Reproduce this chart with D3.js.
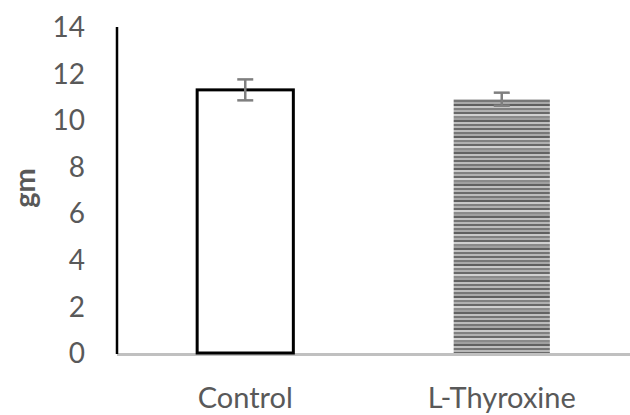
<!DOCTYPE html>
<html><head><meta charset="utf-8">
<script src="https://cdn.jsdelivr.net/npm/d3@7"></script>
<style>body{margin:0;background:#fff}svg{display:block}</style>
</head><body>
<svg id="c" width="630" height="415"></svg>
<script>
const categories = ["Control", "L-Thyroxine"];
const values = [11.3, 10.9];
const errors = [0.45, 0.28];
const yTicks = [0, 2, 4, 6, 8, 10, 12, 14];
const yLabel = "gm";

(function () {
const svg = d3.select("#c");
const mLeft = 117, mRight = 630, mTop = 27, mBottom = 353;
const x = d3.scaleBand().domain(categories).range([mLeft, mRight]).padding(0);
const y = d3.scaleLinear().domain([0, 14]).range([mBottom, mTop]);
const bw = x.bandwidth() * 0.375;

// stripe pattern
const defs = svg.append("defs");
const shades = ["#6a6a6a","#bcbcbc","#777","#a9a9a9","#5f5f5f","#c8c8c8","#808080","#b0b0b0","#686868","#d0d0d0","#8a8a8a","#a0a0a0","#626262","#c0c0c0","#747474","#b8b8b8"];
const pat = defs.append("pattern").attr("id","stripes").attr("patternUnits","userSpaceOnUse")
  .attr("width", 10).attr("height", shades.length * 2);
shades.forEach((c, i) => pat.append("rect").attr("x",0).attr("y", i*2).attr("width",10).attr("height",2).attr("fill", c));

// x axis line
svg.append("line").attr("x1", mLeft).attr("x2", mRight).attr("y1", mBottom + 1.5).attr("y2", mBottom + 1.5)
  .attr("stroke", "#c0c0c0").attr("stroke-width", 3);

// bars
categories.forEach((c, i) => {
  const cx = x(c) + x.bandwidth() / 2;
  if (i === 0) {
    svg.append("rect").attr("x", cx - bw/2).attr("y", y(values[i]))
      .attr("width", bw).attr("height", y(0) - y(values[i]))
      .attr("fill", "#fff").attr("stroke", "#000").attr("stroke-width", 3);
  } else {
    svg.append("rect").attr("x", cx - bw/2).attr("y", y(values[i]))
      .attr("width", bw).attr("height", y(0) - y(values[i]))
      .attr("fill", "url(#stripes)");
  }
  const g = svg.append("g").attr("stroke", "#7f7f7f").attr("stroke-width", 2.5);
  g.append("line").attr("x1", cx).attr("x2", cx).attr("y1", y(values[i] + errors[i])).attr("y2", y(values[i] - errors[i]));
  g.append("line").attr("x1", cx - 8).attr("x2", cx + 8).attr("y1", y(values[i] + errors[i])).attr("y2", y(values[i] + errors[i]));
  g.append("line").attr("x1", cx - 8).attr("x2", cx + 8).attr("y1", y(values[i] - errors[i])).attr("y2", y(values[i] - errors[i]));
});

// y axis line
svg.append("line").attr("x1", mLeft).attr("x2", mLeft).attr("y1", mTop).attr("y2", mBottom + 1)
  .attr("stroke", "#000").attr("stroke-width", 2.5);

// y tick labels
svg.append("g").selectAll("text").data(yTicks).join("text")
  .attr("x", 85).attr("y", d => y(d)).attr("dy", "0.36em")
  .attr("text-anchor", "end").attr("font-family", "Lato, sans-serif").attr("font-size", 28)
  .attr("fill", "#595959").text(d => d);

// x labels
svg.append("g").selectAll("text").data(categories).join("text")
  .attr("x", d => x(d) + x.bandwidth()/2).attr("y", 408)
  .attr("text-anchor", "middle").attr("font-family", "Lato, sans-serif").attr("font-size", 29)
  .attr("fill", "#595959").text(d => d);

// y label
svg.append("text").attr("transform", "translate(35,188) rotate(-90)")
  .attr("text-anchor", "middle").attr("font-family", "Lato, sans-serif").attr("font-weight", "bold")
  .attr("font-size", 29).attr("fill", "#595959").text(yLabel);
})();
</script>
</body></html>
